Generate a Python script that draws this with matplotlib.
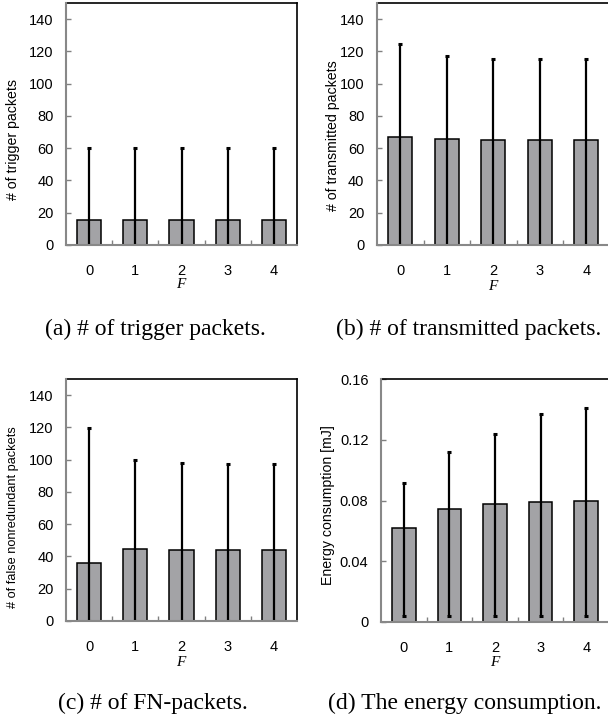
import matplotlib
matplotlib.use('Agg')
import matplotlib.pyplot as plt
from matplotlib.ticker import FixedLocator

# ---------------- data ----------------
F_values = [0, 1, 2, 3, 4]

trigger_mean = [15.5, 15.5, 15.5, 15.5, 15.5]
trigger_low = [0, 0, 0, 0, 0]
trigger_high = [60.3, 60.2, 60.2, 60.2, 60.2]

transmitted_mean = [66.7, 65.5, 65.0, 65.0, 65.0]
transmitted_low = [0, 0, 0, 0, 0]
transmitted_high = [124.7, 116.9, 115.4, 115.3, 115.3]

fn_mean = [35.9, 44.8, 44.2, 44.2, 44.2]
fn_low = [0, 0, 0, 0, 0]
fn_high = [119.8, 100.0, 98.0, 97.4, 97.4]

energy_mean = [0.0620, 0.0746, 0.0780, 0.0792, 0.0796]
energy_low = [0.0037, 0.0037, 0.0037, 0.0037, 0.0037]
energy_high = [0.0913, 0.1118, 0.1240, 0.1368, 0.1412]

count_ticks = [0, 20, 40, 60, 80, 100, 120, 140]
energy_ticks = [0, 0.04, 0.08, 0.12, 0.16]
energy_tick_labels = ['0', '0.04', '0.08', '0.12', '0.16']

ylabels = ['# of trigger packets', '# of transmitted packets',
           '# of false nonredundant packets', 'Energy consumption [mJ]']
captions = ['(a) # of trigger packets.', '(b) # of transmitted packets.',
            '(c) # of FN-packets.', '(d) The energy consumption.']

# ---------------- figure ----------------
W, H = 608, 720
fig = plt.figure(figsize=(W / 100, H / 100), dpi=100)

SANS = 'Liberation Sans'
SERIF = 'Liberation Serif'


def px_axes(left, right, top, bottom):
    return fig.add_axes([left / W, 1 - bottom / H, (right - left) / W, (bottom - top) / H])


def draw_panel(ax, mean, low, high, ylim, yticks, yticklabels):
    ax.bar(F_values, mean, width=0.52, color='#a3a3a6', edgecolor='black',
           linewidth=1.1, zorder=2)
    yerr = [[m - l for m, l in zip(mean, low)], [h - m for m, h in zip(mean, high)]]
    ax.errorbar(F_values, mean, yerr=yerr, fmt='none', ecolor='black',
                elinewidth=1.6, capsize=1.6, capthick=2.2, zorder=3)
    ax.set_xlim(-0.5, 4.5)
    ax.set_ylim(*ylim)
    ax.set_xticks(F_values)
    ax.set_xticklabels([str(v) for v in F_values], fontsize=10.5, family=SANS)
    ax.xaxis.set_minor_locator(FixedLocator([0.5, 1.5, 2.5, 3.5]))
    ax.tick_params(axis='x', which='major', length=0, pad=14)
    ax.tick_params(axis='x', which='minor', direction='in', length=3.5,
                   width=1.0, color='#808080')
    ax.set_yticks(yticks)
    ax.set_yticklabels(yticklabels, fontsize=10.5, family=SANS)
    ax.tick_params(axis='y', direction='in', length=3.5, width=1.0,
                   color='#808080', pad=9)
    for s in ('left', 'bottom'):
        ax.spines[s].set_color('#888888')
        ax.spines[s].set_linewidth(1.5)
        ax.spines[s].set_zorder(4)
    for s in ('top', 'right'):
        ax.spines[s].set_color('black')
        ax.spines[s].set_linewidth(1.2)


axA = px_axes(66, 297, 3, 245)
axB = px_axes(377, 609.5, 3, 245)
axC = px_axes(66, 297, 379, 621)
axD = px_axes(381, 609, 379.3, 621.7)

draw_panel(axA, trigger_mean, trigger_low, trigger_high, (0, 150),
           count_ticks, [str(t) for t in count_ticks])
draw_panel(axB, transmitted_mean, transmitted_low, transmitted_high, (0, 150),
           count_ticks, [str(t) for t in count_ticks])
draw_panel(axC, fn_mean, fn_low, fn_high, (0, 150),
           count_ticks, [str(t) for t in count_ticks])
draw_panel(axD, energy_mean, energy_low, energy_high, (0, 0.16),
           energy_ticks, energy_tick_labels)

# y-axis titles
ylab_pos = [(13, 139, 10.2), (333, 136, 10.2), (13, 517, 9.2), (328, 505, 10.2)]
for lab, (x, y, fs) in zip(ylabels, ylab_pos):
    fig.text(x / W, 1 - y / H, lab, rotation=90, ha='center', va='center',
             fontsize=fs, family=SANS)

# x-axis titles (italic F)
for (x, y) in [(181, 285), (493, 287), (181, 662), (495, 662)]:
    fig.text(x / W, 1 - y / H, 'F', ha='center', va='center', fontsize=11,
             family=SERIF, style='italic')

# captions
cap_pos = [(155, 329), (469, 329), (153, 703), (465, 703)]
for cap, (x, y) in zip(captions, cap_pos):
    fig.text(x / W, 1 - y / H, cap, ha='center', va='center', fontsize=17,
             family=SERIF)

fig.savefig('out.png', dpi=100)
